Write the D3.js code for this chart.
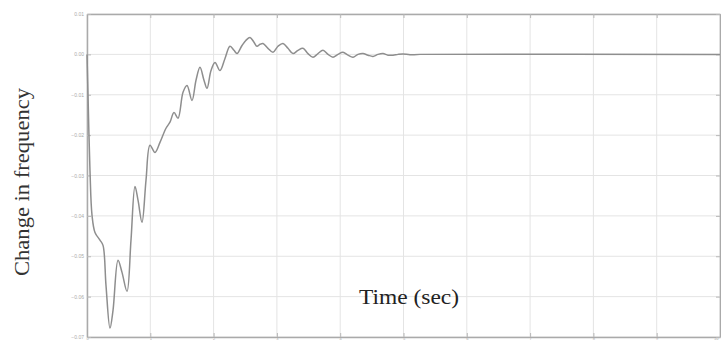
<!DOCTYPE html>
<html>
<head>
<meta charset="utf-8">
<style>
  body { margin: 0; background: #fff; }
  .grid line { stroke: #e4e4e4; stroke-width: 1; }
  .axis path, .axis line { stroke: #b8b8b8; }
  .axis text { font: 5px sans-serif; fill: #aaa; }
  .label { font-family: "Liberation Serif", "Times New Roman", serif; fill: #222; }
</style>
</head>
<body>
<svg width="721" height="343"></svg>
<script src="https://d3js.org/d3.v7.min.js"></script>
<script>
// time (sec)
var time = [0, 0.016, 0.047, 0.079, 0.126, 0.205, 0.253, 0.300, 0.363, 0.411,
  0.490, 0.553, 0.632, 0.695, 0.758, 0.806, 0.869, 0.932, 0.995, 1.074,
  1.153, 1.248, 1.311, 1.374, 1.438, 1.517, 1.580, 1.659, 1.722, 1.785,
  1.848, 1.896, 1.959, 2.022, 2.101, 2.180, 2.259, 2.322, 2.370, 2.449,
  2.512, 2.575, 2.638, 2.686, 2.733, 2.780, 2.859, 2.938, 3.017, 3.096,
  3.175, 3.254, 3.333, 3.412, 3.491, 3.570, 3.649, 3.728, 3.807, 3.886,
  3.965, 4.044, 4.123, 4.202, 4.281, 4.360, 4.439, 4.518, 4.597, 4.676,
  4.755, 4.834, 4.913, 4.992, 5.103, 5.261, 10];
// change in frequency
var dfreq = [0, -0.0101, -0.0287, -0.0398, -0.0441, -0.0460, -0.0473, -0.0572, -0.0678, -0.0634,
  -0.0510, -0.0540, -0.0587, -0.0460, -0.0327, -0.0361, -0.0416, -0.0312, -0.0225, -0.0243,
  -0.0218, -0.0183, -0.0168, -0.0144, -0.0158, -0.0094, -0.0077, -0.0114, -0.0064, -0.0032,
  -0.0064, -0.0084, -0.0040, -0.0020, -0.0040, -0.0010, 0.0020, 0.0010, 0.0002, 0.0022,
  0.0035, 0.0042, 0.0030, 0.0020, 0.0025, 0.0027, 0.0015, 0.0005, 0.0020, 0.0027,
  0.0015, 0.0002, 0.0010, 0.0015, 0.0002, -0.0007, 0.0002, 0.0010, 0, -0.0007,
  0, 0.0005, -0.0002, -0.0007, 0, 0.0002, -0.0002, -0.0005, 0, 0.0002,
  -0.0002, -0.0002, 0, 0.0001, -0.0001, 0, 0];

var xTicks = [0, 1, 2, 3, 4, 5, 6, 7, 8, 9, 10];
var yTicks = [0.01, 0, -0.01, -0.02, -0.03, -0.04, -0.05, -0.06, -0.07];

var svg = d3.select("svg");
var margin = {left: 87, right: 1, top: 14, bottom: 6};
var width = 721 - margin.left - margin.right,
    height = 343 - margin.top - margin.bottom;

var g = svg.append("g").attr("transform", "translate(" + margin.left + "," + margin.top + ")");

var x = d3.scaleLinear().domain([0, 10]).range([0, width]);
var y = d3.scaleLinear().domain([-0.07, 0.01]).range([height, 0]);

// grid
g.append("g").attr("class", "grid")
  .selectAll("line").data(xTicks).enter().append("line")
  .attr("x1", function(d) { return x(d); }).attr("x2", function(d) { return x(d); })
  .attr("y1", 0).attr("y2", height);
g.append("g").attr("class", "grid")
  .selectAll("line").data(yTicks).enter().append("line")
  .attr("x1", 0).attr("x2", width)
  .attr("y1", function(d) { return y(d); }).attr("y2", function(d) { return y(d); });

// axes
var xAxis = g.append("g").attr("class", "axis")
  .attr("transform", "translate(0," + height + ")")
  .call(d3.axisBottom(x).tickValues(xTicks).tickSize(-4).tickSizeOuter(0).tickPadding(1));
xAxis.selectAll("text").attr("dy", "0.6em").style("font-size", "4px")
  .attr("text-anchor", function(d) { return d === 10 ? "end" : "middle"; })
  .attr("x", function(d) { return d === 10 ? -2 : 0; });
g.append("g").attr("class", "axis")
  .call(d3.axisTop(x).tickValues(xTicks).tickSize(-4).tickSizeOuter(0).tickFormat(""));
g.append("g").attr("class", "axis")
  .call(d3.axisLeft(y).tickValues(yTicks).tickSize(-4).tickSizeOuter(0).tickPadding(3));
g.append("g").attr("class", "axis")
  .attr("transform", "translate(" + width + ",0)")
  .call(d3.axisRight(y).tickValues(yTicks).tickSize(-4).tickSizeOuter(0).tickFormat(""));
g.selectAll(".axis path").style("stroke", "#aaa").style("stroke-width", 1.5);

// curve
var pts = time.map(function(t, i) { return [t, dfreq[i]]; });
var line = d3.line()
  .x(function(d) { return x(d[0]); })
  .y(function(d) { return y(d[1]); })
  .curve(d3.curveCatmullRom.alpha(0.5));
g.append("path").datum(pts)
  .attr("d", line)
  .attr("fill", "none")
  .attr("stroke", "#8e8e8e")
  .attr("stroke-width", 1.5);

// labels
svg.append("text").attr("class", "label")
  .attr("x", 409).attr("y", 304)
  .attr("text-anchor", "middle")
  .style("font-size", "22px")
  .attr("textLength", 100)
  .attr("lengthAdjust", "spacingAndGlyphs")
  .text("Time (sec)");
svg.append("text").attr("class", "label")
  .attr("transform", "translate(29,182) rotate(-90)")
  .attr("text-anchor", "middle")
  .style("font-size", "20px")
  .attr("textLength", 188)
  .attr("lengthAdjust", "spacingAndGlyphs")
  .style("fill", "#333")
  .text("Change in frequency");
</script>
</body>
</html>
